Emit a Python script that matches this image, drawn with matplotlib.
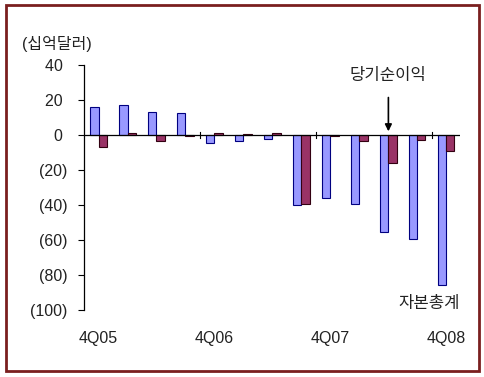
import numpy as np
import matplotlib
matplotlib.use("Agg")
from matplotlib import pyplot as plt
from matplotlib.patches import Rectangle

plt.rcParams['font.family'] = ['Liberation Sans', 'Noto Sans CJK KR', 'DejaVu Sans']

quarters = ["4Q05", "1Q06", "2Q06", "3Q06", "4Q06", "1Q07", "2Q07", "3Q07",
            "4Q07", "1Q08", "2Q08", "3Q08", "4Q08"]
equity_total = [16, 17, 13, 12.4, -4.7, -3.7, -2.4, -40, -35.8, -39.5, -55.5, -59.2, -85.5]
net_income = [-6.6, 1, -3.7, -0.5, 1, 0.5, 1, -39.2, -0.5, -3.2, -15.8, -2.7, -9.3]
shown_labels = ["4Q05", "4Q06", "4Q07", "4Q08"]
yticks = [40, 20, 0, -20, -40, -60, -80, -100]


def fmt(v):
    if v < 0:
        return "(" + str(-v) + ")"
    return str(v) + " "


fig = plt.figure(figsize=(4.84, 3.77), dpi=100)
ax = fig.add_axes([0.1736, 0.1777, 0.7768, 0.6499])

x = np.arange(len(quarters))
w = 0.28
ax.bar(x - w / 2, equity_total, w, color="#9999FF", edgecolor="#000080", linewidth=0.8)
ax.bar(x + w / 2, net_income, w, color="#993366", edgecolor="#330011", linewidth=0.8)

ax.set_xlim(-0.5, 12.47)
ax.set_ylim(-100, 40)
ax.set_yticks(yticks)
ax.set_yticklabels([fmt(v) for v in yticks], fontsize=11.5, color="#222222")
ax.tick_params(axis="y", direction="out", length=4, width=0.8, pad=8)

for s in ["top", "right", "bottom"]:
    ax.spines[s].set_visible(False)
ax.spines["left"].set_linewidth(0.9)
ax.axhline(0, color="black", linewidth=0.9)

# tick marks on the zero line every four quarters
ax.set_xticks([])
for b in [3.5, 7.5, 11.5]:
    ax.plot([b, b], [-1.5, 1.5], color="black", linewidth=0.8)

for q in shown_labels:
    i = quarters.index(q)
    ax.text(i, -0.115, q, transform=ax.get_xaxis_transform(), ha="center", va="center",
            fontsize=11.5, color="#222222")

fig.text(0.046, 0.882, "(십억달러)", fontsize=11.5, ha="left", va="center", color="#222222")

ax.annotate("", xy=(10, 0.5), xytext=(10, 23),
            arrowprops=dict(arrowstyle="-|>", color="black", lw=1.2, mutation_scale=10))
ax.text(10, 34, "당기순이익", ha="center", va="center", fontsize=12, color="#222222")
ax.text(11.4, -96.5, "자본총계", ha="center", va="center", fontsize=12, color="#222222")

fig.patches.append(Rectangle((0.012, 0.016), 0.977, 0.97, transform=fig.transFigure,
                             fill=False, edgecolor="#7A1F1F", linewidth=2))

fig.savefig("out.png", dpi=100)
